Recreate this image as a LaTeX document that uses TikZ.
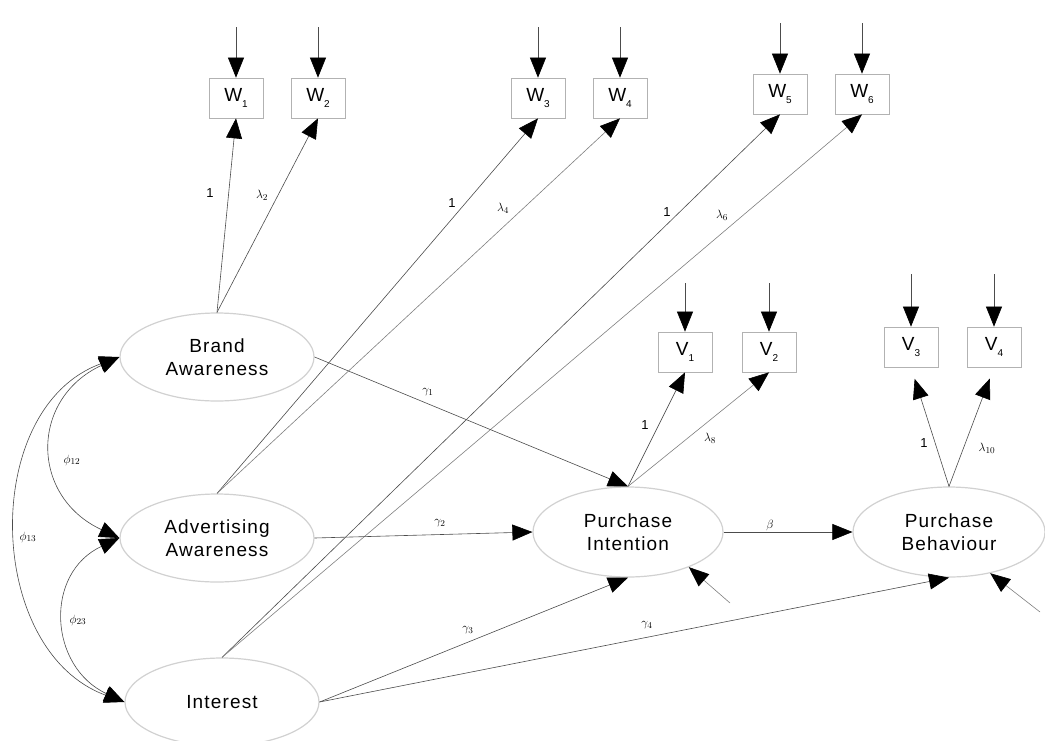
\documentclass[tikz,border=0pt]{standalone}
\usepackage{fontspec}
\setmainfont{Liberation Sans}
\newfontfamily\latfont[LetterSpace=6]{Liberation Sans}
\usetikzlibrary{arrows.meta,shapes.geometric}
\newcommand\lowsub[1]{\raisebox{-0.3em}{\fontsize{10}{10}\selectfont #1}}
\begin{document}
\begin{tikzpicture}[x=1pt,y=-1pt,
  latent/.style={ellipse, draw=black!18, line width=1.2pt, minimum width=194pt, minimum height=88pt, inner sep=0pt, align=center, font=\latfont\fontsize{19}{23}\selectfont},
  obs/.style={rectangle, draw=black!30, line width=0.7pt, minimum width=54pt, minimum height=40pt, inner sep=0pt, font=\latfont\fontsize{19}{19}\selectfont},
  tip/.style={-{Triangle[length=20pt,width=16pt,color=black]}},
  arr/.style={draw=black!70, line width=0.6pt, tip},
  arrl/.style={draw=black!50, line width=0.6pt, tip},
  dbl/.style={draw=black!70, line width=0.6pt, {Triangle[length=20pt,width=16pt,color=black]}-{Triangle[length=20pt,width=16pt,color=black]}},
  lab/.style={font=\fontsize{13}{13}\selectfont, inner sep=0pt}
]
\useasboundingbox (0,0) rectangle (1045,740);
\fill[white] (0,0) rectangle (1045,740);

% latent variables
\node[latent] (BA) at (217,357) {Brand\\Awareness};
\node[latent] (AA) at (217,538) {Advertising\\Awareness};
\node[latent] (IN) at (222,702) {Interest};
\node[latent, minimum width=190pt, minimum height=90pt] (PI) at (628,532) {Purchase\\Intention};
\node[latent, minimum width=192pt, minimum height=90pt] (PB) at (949,532) {Purchase\\Behaviour};

% observed variables
\node[obs] (W1) at (236,98) {W\lowsub{1}};
\node[obs] (W2) at (318,98) {W\lowsub{2}};
\node[obs] (W3) at (538,98) {W\lowsub{3}};
\node[obs] (W4) at (620,98) {W\lowsub{4}};
\node[obs] (W5) at (780,94) {W\lowsub{5}};
\node[obs] (W6) at (862,94) {W\lowsub{6}};
\node[obs] (V1) at (685,352) {V\lowsub{1}};
\node[obs] (V2) at (769,352) {V\lowsub{2}};
\node[obs] (V3) at (911,347) {V\lowsub{3}};
\node[obs] (V4) at (994,347) {V\lowsub{4}};

% error terms
\coordinate (e1) at (236,27);
\coordinate (e2) at (318,27);
\coordinate (e3) at (538,27);
\coordinate (e4) at (620,27);
\coordinate (e5) at (780,23);
\coordinate (e6) at (862,23);
\coordinate (f1) at (685,283);
\coordinate (f2) at (769,283);
\coordinate (f3) at (911,274);
\coordinate (f4) at (994,274);
\coordinate (z1) at (730,603);
\coordinate (z2) at (1040,612);
\foreach \e/\w in {e1/W1,e2/W2,e3/W3,e4/W4,e5/W5,e6/W6,f1/V1,f2/V2,f3/V3,f4/V4}
  \draw[arr] (\e) -- (\w.north);
\draw[arrl] (z1) -- (PI.-30);
\draw[arrl] (z2) -- (PB.-45);

% loadings
\draw[arr]  (BA.north) -- (W1.south);
\draw[arr]  (BA.north) -- (W2.south);
\draw[arr]  (AA.north) -- (W3.south);
\draw[arrl] (AA.north) -- (W4.south);
\draw[arr]  (IN.north) -- (W5.south);
\draw[arrl] (IN.north) -- (W6.south);
\draw[arr]  (PI.north) -- (V1.south);
\draw[arrl] (PI.north) -- (V2.south);
\draw[arr, shorten >=12pt]  (PB.north) -- (V3.south);
\draw[arr, shorten >=12pt]  (PB.north) -- (V4.south);

% structural paths
\draw[arr] (BA.east) -- (PI.north);
\draw[arr] (AA.east) -- (PI.west);
\draw[arr] (IN.east) -- (PI.south);
\draw[arr] (IN.east) -- (PB.south);
\draw[arr] (PI.east) -- (PB.west);

% covariances
\draw[dbl] (BA.west) to[out=205, in=155, looseness=1.4] (AA.west);
\draw[dbl] (BA.west) to[out=200, in=160, looseness=1.1] (IN.west);
\draw[dbl] (AA.west) to[out=205, in=155, looseness=1.3] (IN.west);

% labels
\node[lab] (l1) at (210,193) {1};
\node[lab] (l2) at (262,195) {$\lambda_2$};
\node[lab] (l3) at (452,203) {1};
\node[lab] (l4) at (503,208) {$\lambda_4$};
\node[lab] (l5) at (667,212) {1};
\node[lab] (l6) at (722,215) {$\lambda_6$};
\node[lab] (l7) at (645,425) {1};
\node[lab] (l8) at (710,438) {$\lambda_8$};
\node[lab] (l9) at (924,443) {1};
\node[lab] (l10) at (987,448) {$\lambda_{10}$};
\node[lab] (g1) at (428,392) {$\gamma_1$};
\node[lab] (g2) at (440,523) {$\gamma_2$};
\node[lab] (g3) at (468,630) {$\gamma_3$};
\node[lab] (g4) at (647,625) {$\gamma_4$};
\node[lab] (b1) at (770,525) {$\beta$};
\node[lab] (p12) at (72,460) {$\phi_{12}$};
\node[lab] (p13) at (28,537) {$\phi_{13}$};
\node[lab] (p23) at (78,620) {$\phi_{23}$};
\end{tikzpicture}
\end{document}
